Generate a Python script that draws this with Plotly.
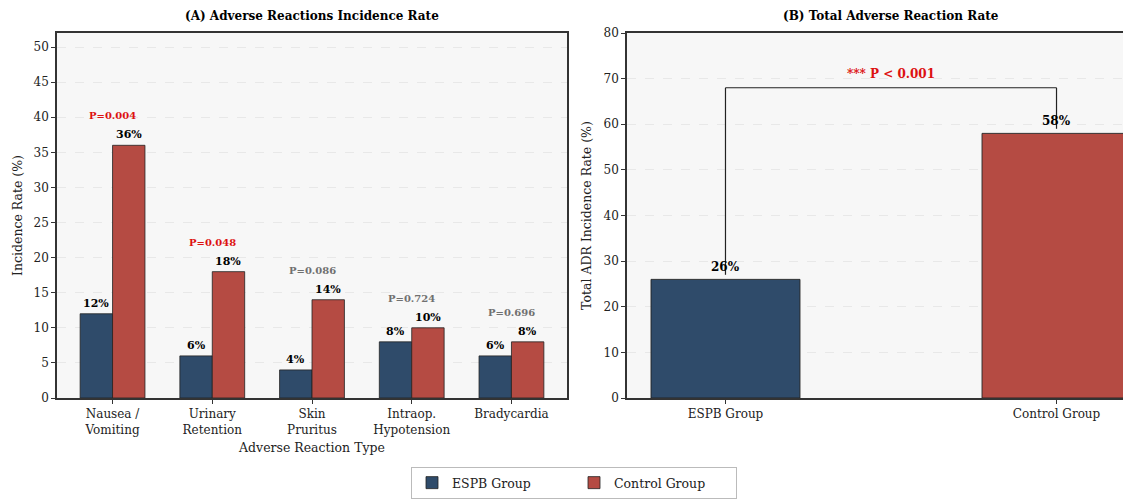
import plotly.graph_objects as go

categories = ["Nausea /<br>Vomiting", "Urinary<br>Retention", "Skin<br>Pruritus", "Intraop.<br>Hypotension", "Bradycardia"]
espb_rates = [12, 6, 4, 8, 6]
control_rates = [36, 18, 14, 10, 8]
p_values = ["P=0.004", "P=0.048", "P=0.086", "P=0.724", "P=0.696"]
p_significant = [True, True, False, False, False]

groups = ["ESPB Group", "Control Group"]
total_rates = [26, 58]
total_p_label = "*** P < 0.001"

BLUE = "#2f4b6a"
RED = "#b54b43"
FONT = "DejaVu Serif"

# page has an 8px body margin; figure coordinates = page coordinates - 8
OFF = 8
W, H = 1155 - OFF, 504 - OFF   # panel B extends past the right edge of the window, as in the reference
ML, MT = 57 - OFF, 33 - OFF
MB = H - (398 - OFF)
PW = W - ML
dA = [0, (567 - 57) / PW]
dB = [(627 - 57) / PW, 1.0]

fig = go.Figure()
bw = 0.325
idx = list(range(len(categories)))
fig.add_trace(go.Bar(x=idx, y=espb_rates, width=bw, offset=-bw, name="ESPB Group",
                     marker=dict(color=BLUE, line=dict(color="#222222", width=0.8)),
                     xaxis="x", yaxis="y"))
fig.add_trace(go.Bar(x=idx, y=control_rates, width=bw, offset=0, name="Control Group",
                     marker=dict(color=RED, line=dict(color="#222222", width=0.8)),
                     xaxis="x", yaxis="y"))
fig.add_trace(go.Bar(x=[0, 1], y=total_rates, width=0.45, showlegend=False,
                     marker=dict(color=[BLUE, RED], line=dict(color="#222222", width=0.9)),
                     xaxis="x2", yaxis="y2"))

ann = []
for i in idx:
    ann.append(dict(x=i - bw / 2, y=espb_rates[i], xref="x", yref="y", text=f"<b>{espb_rates[i]}%</b>",
                    showarrow=False, yanchor="bottom", xanchor="center", yshift=2,
                    font=dict(size=11, color="black", family=FONT)))
    ann.append(dict(x=i + bw / 2, y=control_rates[i], xref="x", yref="y", text=f"<b>{control_rates[i]}%</b>",
                    showarrow=False, yanchor="bottom", xanchor="center", yshift=2,
                    font=dict(size=11, color="black", family=FONT)))
    top = max(espb_rates[i], control_rates[i])
    ann.append(dict(x=i, y=top + 4.2, xref="x", yref="y", text=f"<b>{p_values[i]}</b>", showarrow=False,
                    yanchor="middle", xanchor="center",
                    font=dict(size=10, family=FONT, color="#dd1111" if p_significant[i] else "#707070")))
for j, v in enumerate(total_rates):
    ann.append(dict(x=j, y=v, xref="x2", yref="y2", text=f"<b>{v}%</b>", showarrow=False,
                    yanchor="bottom", xanchor="center", yshift=3,
                    font=dict(size=12, color="black", family=FONT)))

br_y = max(total_rates) + 10
ann.append(dict(x=0.5, y=br_y + 1, xref="x2", yref="y2", text=f"<b>{total_p_label}</b>", showarrow=False,
                yanchor="bottom", xanchor="center", font=dict(size=12, color="#dd1111", family=FONT)))

# titles
ann.append(dict(x=(dA[0] + dA[1]) / 2, y=1, xref="paper", yref="paper", yanchor="bottom", xanchor="center",
                yshift=8, text="<b>(A) Adverse Reactions Incidence Rate</b>", showarrow=False,
                font=dict(size=12, color="black", family=FONT)))
ann.append(dict(x=(dB[0] + dB[1]) / 2, y=1, xref="paper", yref="paper", yanchor="bottom",
                xanchor="center", yshift=8, text="<b>(B) Total Adverse Reaction Rate</b>", showarrow=False,
                font=dict(size=12, color="black", family=FONT)))

shapes = [
    dict(type="line", xref="x2", yref="y2", x0=0, x1=0, y0=total_rates[0] + 1, y1=br_y,
         line=dict(color="#222222", width=1.2)),
    dict(type="line", xref="x2", yref="y2", x0=0, x1=1, y0=br_y, y1=br_y,
         line=dict(color="#222222", width=1.2)),
    dict(type="line", xref="x2", yref="y2", x0=1, x1=1, y0=total_rates[1] + 1, y1=br_y,
         line=dict(color="#222222", width=1.2)),
]

axis_common = dict(showline=True, linecolor="#333333", linewidth=1.5, ticks="outside", ticklen=4,
                   tickcolor="#333333", tickfont=dict(size=12, color="#222222", family=FONT),
                   zeroline=False, automargin=False)
grid = dict(showgrid=True, gridcolor="#e8e8e8", griddash="dash", gridwidth=0.6)

fig.update_layout(
    width=W, height=H, margin=dict(l=ML, r=0, t=MT, b=MB),
    paper_bgcolor="white", plot_bgcolor="#f7f7f7",
    barmode="overlay",
    font=dict(family=FONT, color="#222222"),
    annotations=ann, shapes=shapes,
    xaxis=dict(domain=dA, anchor="y", range=[-0.557, 4.557], tickvals=idx, ticktext=categories,
               mirror=True, showgrid=False,
               title=dict(text="Adverse Reaction Type", font=dict(size=12.5, family=FONT), standoff=7),
               **axis_common),
    yaxis=dict(domain=[0, 1], anchor="x", range=[0, 52], dtick=5, mirror=True,
               title=dict(text="Incidence Rate (%)", font=dict(size=12.5, family=FONT), standoff=8),
               **grid, **axis_common),
    xaxis2=dict(domain=dB, anchor="y2", range=[-0.2975, 1.2975], tickvals=[0, 1], ticktext=groups,
                mirror=True, showgrid=False, **axis_common),
    yaxis2=dict(domain=[0, 1], anchor="x2", range=[0, 80], dtick=10, mirror=True,
                title=dict(text="Total ADR Incidence Rate (%)", font=dict(size=12.5, family=FONT), standoff=9),
                **grid, **axis_common),
    legend=dict(orientation="h", x=(574 - OFF) / W, xanchor="center", xref="container",
                y=(H - (467 - OFF)) / H, yanchor="top", yref="container",
                bgcolor="white", bordercolor="#bbbbbb", borderwidth=1,
                font=dict(size=12.5, family=FONT, color="#222222"), itemwidth=30, entrywidth=117),
)

fig.write_html("out.html")
